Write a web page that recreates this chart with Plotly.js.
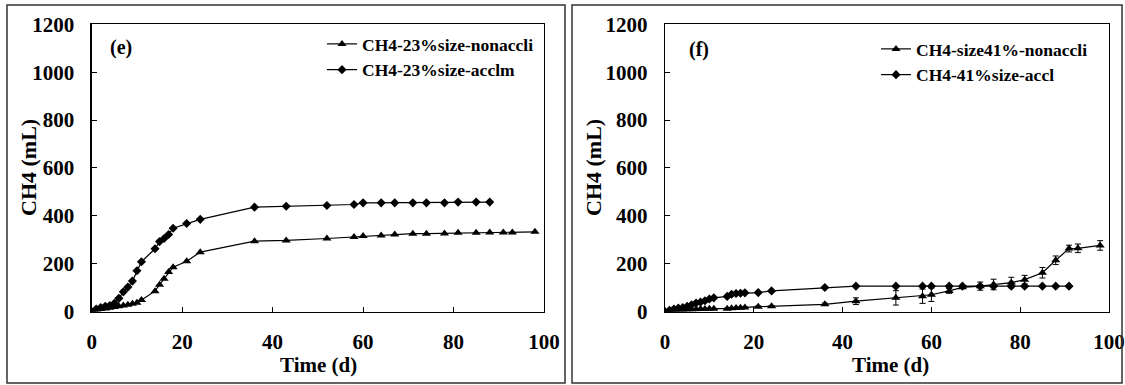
<!DOCTYPE html>
<html>
<head>
<meta charset="utf-8">
<script src="https://cdn.plot.ly/plotly-3.0.1.min.js"></script>
<style>html,body{margin:0;padding:0;background:#fff;}#chart{width:1125px;height:385px;}</style>
</head>
<body>
<div id="chart"></div>
<script>
// Panel (e)
const eNonTime = [0,1,2,3,4,5,6,7,8,9,10,11,14,15,16,17,18,21,24,36,43,52,58,60,64,67,71,74,78,81,85,88,91,93,98];
const eNonCH4  = [0,5,10,13,16,19,22,25,28,32,37,48,85,112,137,165,185,210,248,294,297,305,311,315,318,322,325,325,326,329,329,330,330,330,333];
const eAccTime = [0,1,2,3,4,5,6,7,8,9,10,11,14,15,16,17,18,21,24,36,43,52,58,60,64,67,71,74,78,81,85,88];
const eAccCH4  = [0,10,17,22,25,34,55,82,102,127,170,208,262,292,305,322,348,368,385,436,440,443,447,454,454,454,454,454,454,457,457,457];
// Panel (f)
const fNonTime = [0,1,2,3,4,5,6,7,8,9,10,11,14,15,16,17,18,21,24,36,43,52,58,60,64,67,71,74,78,81,85,88,91,93,98];
const fNonCH4  = [0,2,4,5,6,7,8,9,10,10,11,12,12,14,15,16,17,20,22,30,43,57,64,70,86,101,106,113,121,133,162,214,263,264,276];
const fNonErr  = [0,1,1,1,1,1,1,1,1,1,1,1,2,2,2,2,2,3,3,5,14,30,30,28,10,5,17,22,22,18,22,18,14,18,20];
const fAccTime = [0,1,2,3,4,5,6,7,8,9,10,11,14,15,16,17,18,21,24,36,43,52,58,60,64,67,71,74,78,81,85,88,91];
const fAccCH4  = [0,5,10,14,17,22,28,35,40,45,52,57,63,72,75,76,78,79,86,100,106,106,106,106,106,106,106,106,106,106,106,106,106];

const FONT = 'Liberation Serif';
const ln = {color:'#000', width:1.2};

const traces = [
  {x:eNonTime, y:eNonCH4, name:'CH4-23%size-nonaccli', mode:'lines+markers', type:'scatter',
   line:ln, marker:{symbol:'triangle-up', size:8, color:'#000'}, xaxis:'x', yaxis:'y', legend:'legend'},
  {x:eAccTime, y:eAccCH4, name:'CH4-23%size-acclm', mode:'lines+markers', type:'scatter',
   line:ln, marker:{symbol:'diamond', size:7, color:'#000'}, xaxis:'x', yaxis:'y', legend:'legend'},
  {x:fNonTime, y:fNonCH4, name:'CH4-size41%-nonaccli', mode:'lines+markers', type:'scatter',
   line:ln, marker:{symbol:'triangle-up', size:8, color:'#000'},
   error_y:{type:'data', array:fNonErr, visible:true, color:'#000', thickness:1, width:3},
   xaxis:'x2', yaxis:'y2', legend:'legend2'},
  {x:fAccTime, y:fAccCH4, name:'CH4-41%size-accl', mode:'lines+markers', type:'scatter',
   line:ln, marker:{symbol:'diamond', size:7, color:'#000'}, xaxis:'x2', yaxis:'y2', legend:'legend2'}
];

const W = 1125, H = 385;
const px = v => v / W, py = v => (H - v) / H;

function xax(d0, d1, anchor){
  return {domain:[px(d0), px(d1)], range:[0,100], anchor:anchor, dtick:20, tick0:0,
    ticks:'inside', ticklen:5, tickwidth:1, tickcolor:'#000',
    showline:true, linecolor:'#000', linewidth:1.3, mirror:true, showgrid:false, zeroline:false,
    tickfont:{family:FONT, size:21, color:'#000', weight:'bold'}, ticklabelstandoff:11};
}
function yax(anchor){
  return {domain:[py(311.5), py(24.3)], range:[0,1200], anchor:anchor, dtick:200, tick0:0,
    ticks:'inside', ticklen:5, tickwidth:1, tickcolor:'#000',
    showline:true, linecolor:'#000', linewidth:1.3, mirror:true, showgrid:false, zeroline:false,
    tickfont:{family:FONT, size:21, color:'#000', weight:'bold'}, ticklabelstandoff:12};
}
function ann(text, x, y, angle, size){
  return {text:'<b>'+text+'</b>', xref:'paper', yref:'paper', x:px(x), y:py(y), xanchor:'center', yanchor:'middle',
    textangle:angle, showarrow:false, font:{family:FONT, size:size, color:'#000'}};
}

const layout = {
  width:W, height:H, margin:{l:0, r:0, t:0, b:0},
  paper_bgcolor:'#fff', plot_bgcolor:'#fff',
  font:{family:FONT, color:'#000'},
  xaxis:xax(91.7, 544, 'y'), yaxis:yax('x'),
  xaxis2:xax(665, 1109, 'y2'), yaxis2:yax('x2'),
  legend:{x:px(322), y:py(26), xanchor:'left', yanchor:'top', bgcolor:'rgba(0,0,0,0)',
    font:{family:FONT, size:17.5, color:'#000', weight:'bold'}, tracegroupgap:0, itemwidth:30},
  legend2:{x:px(876), y:py(31), xanchor:'left', yanchor:'top', bgcolor:'rgba(0,0,0,0)',
    font:{family:FONT, size:17.5, color:'#000', weight:'bold'}, tracegroupgap:0, itemwidth:30},
  annotations:[
    ann('(e)', 121, 47, 0, 20),
    ann('(f)', 699, 49, 0, 20),
    ann('Time (d)', 318, 365, 0, 21),
    ann('Time (d)', 890, 365, 0, 21),
    ann('CH4 (mL)', 28, 168, -90, 22),
    ann('CH4 (mL)', 593, 168, -90, 22)
  ],
  shapes:[
    {type:'rect', xref:'paper', yref:'paper', x0:px(7), x1:px(565), y0:py(383), y1:py(5), line:{color:'#333', width:1.5}},
    {type:'rect', xref:'paper', yref:'paper', x0:px(572), x1:px(1122), y0:py(383), y1:py(5), line:{color:'#333', width:1.5}}
  ],
  showlegend:true
};

Plotly.newPlot('chart', traces, layout, {displayModeBar:false, staticPlot:true});
</script>
</body>
</html>
